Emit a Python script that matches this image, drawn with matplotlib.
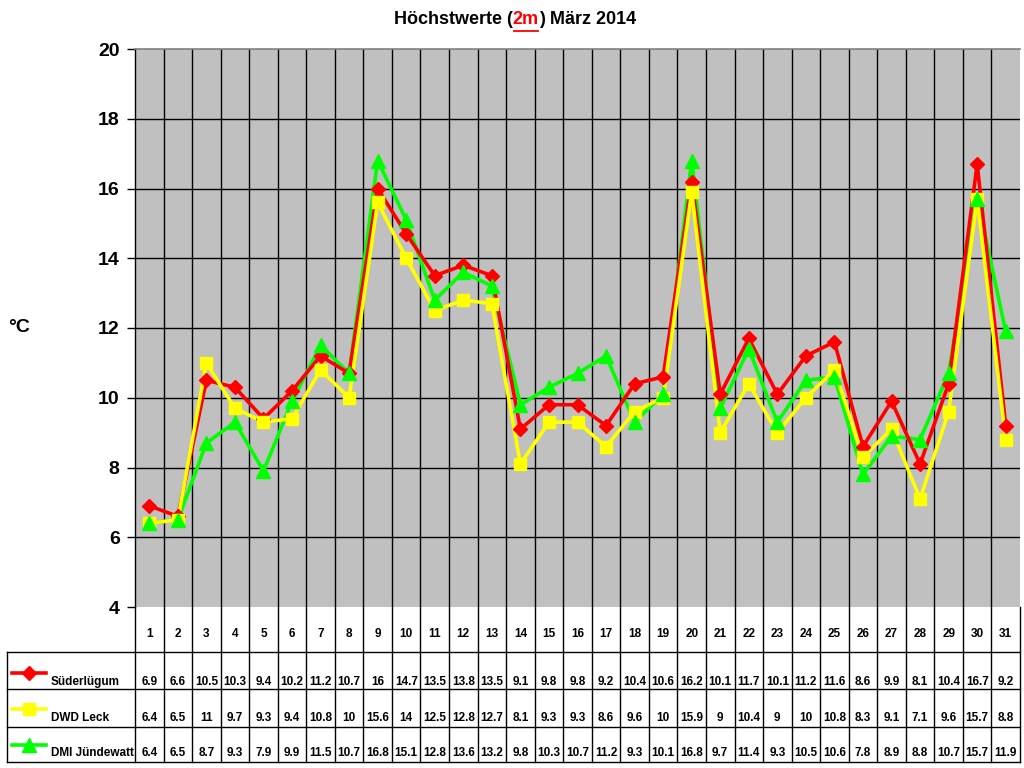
import matplotlib
matplotlib.use("Agg")
import matplotlib.pyplot as plt
from matplotlib.transforms import blended_transform_factory
from matplotlib.lines import Line2D

days = list(range(1, 32))
sueder = [6.9, 6.6, 10.5, 10.3, 9.4, 10.2, 11.2, 10.7, 16, 14.7, 13.5, 13.8, 13.5, 9.1, 9.8, 9.8,
          9.2, 10.4, 10.6, 16.2, 10.1, 11.7, 10.1, 11.2, 11.6, 8.6, 9.9, 8.1, 10.4, 16.7, 9.2]
leck = [6.4, 6.5, 11, 9.7, 9.3, 9.4, 10.8, 10, 15.6, 14, 12.5, 12.8, 12.7, 8.1, 9.3, 9.3,
        8.6, 9.6, 10, 15.9, 9, 10.4, 9, 10, 10.8, 8.3, 9.1, 7.1, 9.6, 15.7, 8.8]
juende = [6.4, 6.5, 8.7, 9.3, 7.9, 9.9, 11.5, 10.7, 16.8, 15.1, 12.8, 13.6, 13.2, 9.8, 10.3, 10.7,
          11.2, 9.3, 10.1, 16.8, 9.7, 11.4, 9.3, 10.5, 10.6, 7.8, 8.9, 8.8, 10.7, 15.7, 11.9]
series_names = ["Süderlügum", "DWD Leck", "DMI Jündewatt"]
series_values = [sueder, leck, juende]
series_colors = ["#FF0000", "#FFFF00", "#00FF00"]
series_markers = ["D", "s", "^"]
series_ms = [7.5, 8.5, 9.5]
line_z = [3, 4, 2]
marker_z = [5, 6, 7]
yticks = [4, 6, 8, 10, 12, 14, 16, 18, 20]

FONT = "Liberation Sans"
W, H = 1024, 768
fig = plt.figure(figsize=(W / 100, H / 100), dpi=100)

def fx(px):
    return px / W

def fy(py):
    return 1 - py / H

L, R, T, B = 135, 1020, 49, 607
ax = fig.add_axes([fx(L), fy(B), fx(R) - fx(L), fy(T) - fy(B)])
ax.set_facecolor("#C0C0C0")
ax.set_xlim(0.5, 31.5)
ax.set_ylim(4, 20)
for s in ["bottom", "right"]:
    ax.spines[s].set_visible(False)
ax.spines["top"].set_color("#808080")
ax.spines["top"].set_linewidth(1.2)
ax.spines["left"].set_color("black")
ax.spines["left"].set_linewidth(1)
ax.set_xticks([])
ax.set_yticks(yticks)
ax.set_yticklabels([str(t) for t in yticks], fontfamily=FONT, fontweight="bold", fontsize=14)
ax.tick_params(axis="y", direction="out", length=6, width=1, pad=5, color="black")
for t in yticks[1:-1]:
    ax.axhline(t, color="black", lw=1, zorder=1)
for k in range(1, 31):
    ax.axvline(k + 0.5, color="black", lw=1, zorder=1)

for vals, c, m, ms, lz, mz in zip(series_values, series_colors, series_markers, series_ms,
                                  line_z, marker_z):
    ax.plot(days, vals, color=c, lw=2.6, zorder=lz, clip_on=False)
    ax.plot(days, vals, linestyle="none", marker=m, ms=ms, mec=c, mfc=c, zorder=mz, clip_on=False)

fig.text(fx(8), fy(327), "°C", fontfamily=FONT, fontweight="bold", fontsize=14,
         ha="left", va="center")

# table area
TB = 762
axt = fig.add_axes([fx(L), fy(TB), fx(R) - fx(L), fy(B) - fy(TB)])
axt.set_xlim(0.5, 31.5)
axt.set_ylim(TB, B)
axt.axis("off")
for k in range(0, 32):
    axt.plot([k + 0.5, k + 0.5], [B, TB], color="black", lw=1, clip_on=False)
tr = blended_transform_factory(fig.transFigure, axt.transData)
row_lines = [652, 689, 727, 762]
for yl in row_lines:
    axt.plot([fx(7), fx(R)], [yl, yl], color="black", lw=1, transform=tr, clip_on=False)
axt.plot([fx(7), fx(7)], [row_lines[0], row_lines[-1]], color="black", lw=1, transform=tr, clip_on=False)

for d in days:
    axt.text(d, 634, str(d), ha="center", va="center", fontfamily=FONT, fontweight="bold", fontsize=8.5)

row_text_y = [682, 718, 753]
row_marker_y = [673, 709, 745]
for i, (name, vals, c, m, ms) in enumerate(zip(series_names, series_values, series_colors,
                                                  series_markers, series_ms)):
    for d, v in zip(days, vals):
        axt.text(d, row_text_y[i], f"{v:g}", ha="center", va="center", fontfamily=FONT,
                 fontweight="bold", fontsize=8.5)
    axt.add_line(Line2D([fx(12), fx(46)], [row_marker_y[i], row_marker_y[i]], color=c, lw=2.6,
                        transform=tr, clip_on=False))
    axt.add_line(Line2D([fx(29)], [row_marker_y[i]], color=c, marker=m, ms=ms, mfc=c, mec=c,
                        transform=tr, clip_on=False, linestyle="none"))
    axt.text(fx(51), row_text_y[i], name, ha="left", va="center", fontfamily=FONT,
             fontweight="bold", fontsize=8.5, transform=tr)

# title with red underlined part
parts = [("Höchstwerte (", "black"), ("2m", "#FF0000"), (") März 2014", "black")]
renderer = fig.canvas.get_renderer()
widths = []
tmp = []
for s, c in parts:
    t = fig.text(0, 0, s, fontfamily=FONT, fontweight="bold", fontsize=13)
    bb = t.get_window_extent(renderer)
    widths.append(bb.width)
    tmp.append(t)
for t in tmp:
    t.remove()
total = sum(widths)
x0 = 515 - total / 2
ty = 20
for (s, c), w in zip(parts, widths):
    fig.text(fx(x0), fy(ty), s, color=c, fontfamily=FONT, fontweight="bold", fontsize=13,
             ha="left", va="center")
    if c != "black":
        fig.add_artist(Line2D([fx(x0 + 1), fx(x0 + w - 1)], [fy(ty + 11), fy(ty + 11)], color=c,
                              lw=1.3, transform=fig.transFigure))
    x0 += w

fig.savefig("out.png", dpi=100)
